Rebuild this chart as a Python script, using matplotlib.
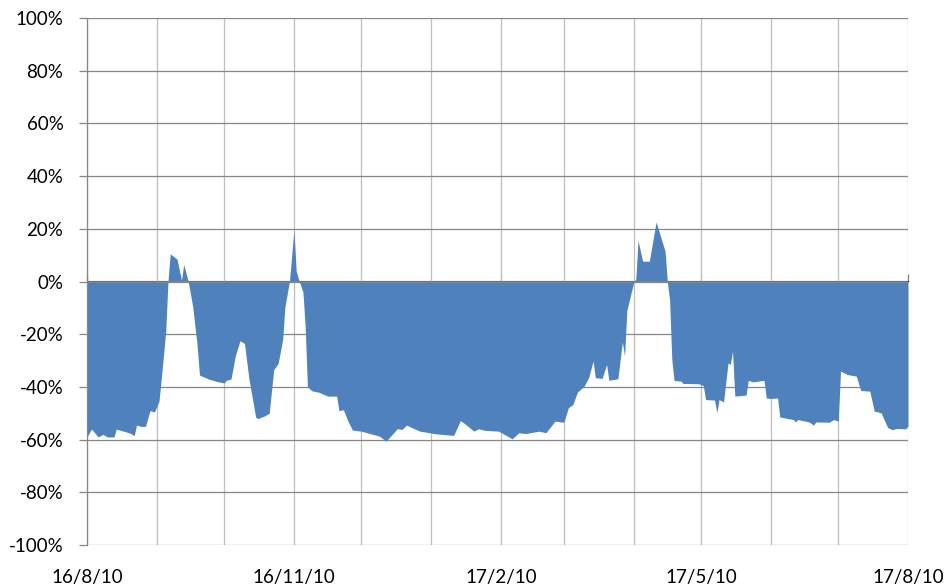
import matplotlib
matplotlib.use("Agg")
import matplotlib.pyplot as plt
import matplotlib.dates as mdates
import matplotlib.ticker as mticker
import pandas as pd

# days after 2016-08-10 and value in %
day_offsets = [0, 2, 5, 7, 9, 12, 13, 17, 19, 21, 22, 24, 26, 28, 30, 32, 33, 35, 36, 37,
               40, 42, 43, 45, 47, 49, 50, 54, 58, 61, 62, 64, 66, 68, 70, 72, 75, 76, 79, 81,
               83, 85, 87, 88, 90, 92, 93, 94, 96, 97, 98, 100, 103, 107, 111, 112, 114, 116, 118, 122,
               127, 130, 133, 138, 140, 142, 148, 155, 163, 166, 168, 172, 174, 177, 183, 189, 192, 195, 201, 204,
               208, 212, 214, 216, 218, 221, 223, 225, 226, 229, 231, 232, 236, 238, 239, 240, 243, 244, 245, 247,
               250, 253, 257, 258, 259, 260, 261, 264, 265, 272, 274, 275, 279, 280, 281, 283, 285, 286, 287, 288,
               293, 294, 296, 301, 302, 304, 307, 308, 314, 315, 316, 321, 323, 324, 330, 332, 334, 335, 338, 342,
               344, 348, 350, 353, 356, 358, 360, 364, 365]
values = [-59, -56, -59, -58, -59, -59, -56, -57, -57.5, -58.5, -54.5, -55, -55, -49, -49.5, -45.5, -37, -19, 0, 10.5,
          8.5, 0.5, 6.5, 0, -9.5, -24.5, -35.5, -37, -38, -38.5, -37.5, -37, -28, -22.5, -23.5, -37, -51.5, -52, -51, -50,
          -33.5, -31, -22, -9.5, 0, 19.5, 4, 1, -4, -17, -40, -41.5, -42, -43.5, -43.5, -49, -48.7, -53, -56.4, -56.8,
          -58, -58.7, -60.6, -55.8, -56.2, -54.5, -56.8, -57.8, -58.4, -52.8, -54, -56.8, -55.9, -56.5, -56.8, -59.7, -57.4, -57.7, -56.8, -57.4,
          -53, -53.4, -47.9, -46.7, -42, -39.7, -36.5, -30.2, -36.5, -36.8, -31.5, -37.5, -36.9, -23, -28.3, -11, -0.5, 1, 15.6, 7.7,
          7.7, 22.6, 11.5, 0, -6.8, -29.6, -37.6, -37.8, -38.7, -38.8, -39.5, -44.8, -45, -49.8, -44.8, -45.7, -30.9, -31.5, -26.4, -43.5,
          -43.1, -37.5, -38.1, -37.5, -44.2, -44.4, -44.2, -51.4, -52.4, -53.3, -52.4, -53.3, -54.5, -53.3, -53.4, -52.4, -53, -34, -35.3, -35.9,
          -41.4, -41.6, -49.2, -49.8, -55.5, -56.2, -55.8, -55.9, -54.9]
start_date = "2016-08-10"
end_date = "2017-08-10"
y_ticks = [-100, -80, -60, -40, -20, 0, 20, 40, 60, 80, 100]
label_months = (2, 5, 8, 11)

dates = pd.Timestamp(start_date) + pd.to_timedelta(day_offsets, unit="D")

plt.rcParams["font.family"] = ["Lato", "DejaVu Sans"]
dark = "#868686"
light = "#BFBFBF"

fig = plt.figure(figsize=(9.48, 5.87), dpi=100)
ax = fig.add_axes([87 / 948, 1 - 545 / 587, 821 / 948, 527 / 587])

ax.fill_between(dates, values, 0, color="#4F81BD", lw=0, zorder=2)

ax.set_xlim(pd.Timestamp(start_date), pd.Timestamp(end_date))
ax.set_ylim(-100, 100)

# y axis
ax.set_yticks(y_ticks)
ax.yaxis.set_major_formatter(mticker.FuncFormatter(lambda v, p: f"{v:.0f}%"))
ax.tick_params(axis="y", direction="out", length=6, width=0.9, color=dark, pad=11, labelsize=13.5)
ax.yaxis.grid(True, color=dark, lw=0.9)

# x axis: monthly grid, labels every 3 months at the bottom
ax.xaxis.set_major_locator(mdates.MonthLocator(bymonthday=10))
def fmt_date(x, pos):
    d = mdates.num2date(x)
    return f"{d.year % 100}/{d.month}/{d.day}" if d.month in label_months else ""
ax.xaxis.set_major_formatter(mticker.FuncFormatter(fmt_date))
ax.tick_params(axis="x", length=0, pad=17, labelsize=13.5)
ax.xaxis.grid(True, color=light, lw=0.9)
ax.set_axisbelow(True)

for s in ("top", "right", "bottom"):
    ax.spines[s].set_visible(False)
ax.spines["left"].set_color(dark)
ax.spines["left"].set_linewidth(0.9)

# horizontal axis line at 0 with quarterly tick marks
ax.axhline(0, color=dark, lw=1.2, zorder=3)
sec = ax.secondary_xaxis(0.5)
sec.xaxis.set_major_locator(mdates.MonthLocator(bymonth=label_months, bymonthday=10))
sec.xaxis.set_major_formatter(mticker.NullFormatter())
sec.tick_params(direction="out", length=5, width=0.9, color=dark)
sec.spines["bottom"].set_visible(False)

fig.savefig("out.png", dpi=100)
